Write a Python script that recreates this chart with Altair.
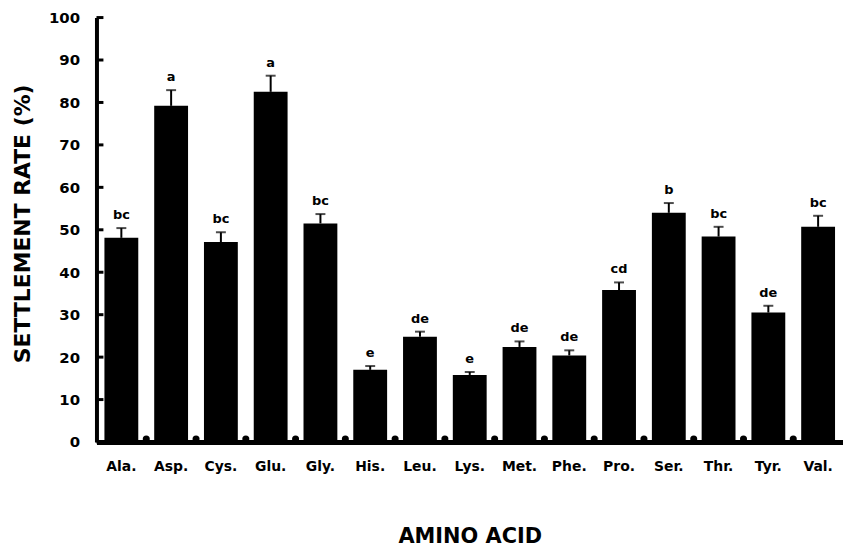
import altair as alt
import pandas as pd

categories = ["Ala.", "Asp.", "Cys.", "Glu.", "Gly.", "His.", "Leu.", "Lys.",
              "Met.", "Phe.", "Pro.", "Ser.", "Thr.", "Tyr.", "Val."]
means = [48.1, 79.2, 47.1, 82.5, 51.5, 17.0, 24.8, 15.8, 22.4, 20.4, 35.8, 54.0, 48.4, 30.5, 50.7]
errors = [2.3, 3.7, 2.3, 3.8, 2.2, 0.9, 1.2, 0.7, 1.3, 1.2, 1.8, 2.3, 2.3, 1.6, 2.6]
letters = ["bc", "a", "bc", "a", "bc", "e", "de", "e", "de", "de", "cd", "b", "bc", "de", "bc"]
y_ticks = [0, 10, 20, 30, 40, 50, 60, 70, 80, 90, 100]

df = pd.DataFrame({"acid": categories, "mean": means, "err": errors, "letter": letters})
df["top"] = df["mean"] + df["err"]
ticks_df = pd.DataFrame({"v": y_ticks})
bumps_df = pd.DataFrame({"acid": categories[1:], "base": [0] * (len(categories) - 1)})

FONT = "DejaVu Sans"

xscale = alt.Scale(domain=categories, paddingInner=0.32, paddingOuter=0.16)
yscale = alt.Scale(domain=[0, 100], nice=False)

x_enc = alt.X(
    "acid:N", sort=categories, scale=xscale,
    axis=alt.Axis(
        title="AMINO ACID", labelAngle=0, labelFont=FONT, labelFontSize=14,
        labelFontWeight="bold", labelColor="black", labelPadding=18, ticks=False,
        domainWidth=5, domainColor="black", titleFont=FONT, titleFontSize=21,
        titleFontWeight="bold", titleColor="black", titleY=95, titleBaseline="middle",
    ),
)
x_plain = alt.X("acid:N", sort=categories, scale=xscale)

y_enc = alt.Y(
    "mean:Q", scale=yscale,
    axis=alt.Axis(
        values=y_ticks, title="SETTLEMENT RATE (%)", ticks=False, grid=False,
        labelFont=FONT, labelFontSize=15, labelFontWeight="bold", labelColor="black",
        labelPadding=17, domainWidth=4, domainColor="black",
        titleFont=FONT, titleFontSize=22, titleFontWeight="bold", titleColor="black",
        titleX=-74, titleY=207, titleAngle=270, titleAlign="center", titleBaseline="middle",
    ),
)

base = alt.Chart(df)
bars = base.mark_bar(color="black").encode(x=x_enc, y=y_enc)
err_rule = base.mark_rule(color="black", strokeWidth=2).encode(
    x=x_plain, y=alt.Y("mean:Q", scale=yscale), y2="top:Q")
caps = base.mark_tick(color="black", size=10, thickness=2, orient="horizontal").encode(
    x=x_plain, y=alt.Y("top:Q", scale=yscale))
labels = base.mark_text(font=FONT, fontSize=13, fontWeight="bold", color="black",
                        baseline="alphabetic", dy=-9).encode(
    x=x_plain, y=alt.Y("top:Q", scale=yscale), text="letter:N")
yticks = alt.Chart(ticks_df).mark_rule(color="black", strokeWidth=3).encode(
    x=alt.value(0), x2=alt.value(7), y=alt.Y("v:Q", scale=yscale))
bumps = alt.Chart(bumps_df).mark_circle(color="black", opacity=1, size=50, xOffset=-25, yOffset=-3).encode(
    x=x_plain, y=alt.Y("base:Q", scale=yscale))

chart = alt.layer(bars, err_rule, caps, labels, yticks, bumps).properties(
    width=751, height=427, autosize="none", background="white",
    padding={"left": 89, "top": 8, "right": 0, "bottom": 105},
).configure_view(strokeWidth=0, stroke="transparent").configure_axis(grid=False)

chart.save("out.html", embed_options={"renderer": "svg", "actions": False})
